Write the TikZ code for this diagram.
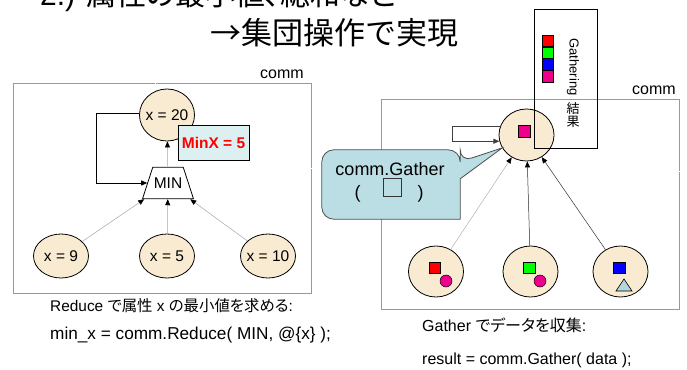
\documentclass[tikz,border=0pt]{standalone}
\usepackage{fontspec}
\setmainfont{Liberation Sans}
\newfontfamily\jp[RawFeature=+palt]{Noto Sans CJK JP}
\newfontfamily\jpt{Noto Sans CJK JP}
\usetikzlibrary{shapes.geometric,arrows.meta,calc}

\definecolor{cream}{RGB}{249,235,210}
\definecolor{notefill}{RGB}{220,240,242}
\definecolor{bubfill}{RGB}{186,222,227}
\definecolor{trifill}{RGB}{178,216,220}

% centred text of zero width, so an ellipse keeps its own size
\newcommand\ctrtext[1]{\makebox[0pt]{#1}}

\begin{document}
\begin{tikzpicture}[x=1pt,y=-1pt,
  txt/.style={inner sep=0pt, font=\fontsize{16}{19}\selectfont},
  val/.style={ellipse, draw, fill=cream, line width=0.8pt, inner sep=0pt,
    minimum width=55pt, font=\fontsize{15.5}{18}\selectfont},
  frame/.style={draw=gray!80, dash pattern=on 0.5pt off 0.5pt, line width=0.6pt},
  feed/.style={line width=0.8pt, -{Triangle[length=6pt,width=5pt]}},
  link/.style={draw=gray!70, line width=0.5pt, -{Triangle[length=6pt,width=5pt,color=black]}},
  chip/.style={draw, line width=0.5pt, minimum size=11.5pt, inner sep=0pt},
  dot/.style={circle, draw, line width=0.5pt, fill=magenta, minimum size=12pt, inner sep=0pt},
]
\clip (0,0) rectangle (687,369);
\fill[white] (0,0) rectangle (687,369);

% headings
\node[anchor=base west, inner sep=0pt, font=\fontsize{30}{36}\selectfont] (h1) at (40,6) {2.) {\jp 属性の最小値、総和など}};
\node[anchor=base west, inner sep=0pt, font=\jpt\fontsize{31}{36}\selectfont] (h2) at (210,45) {→集団操作で実現};

% ---------------- Reduce ----------------
\node[txt] (commL) at (282,74) {comm};
\draw[frame] (13,83) rectangle (311,293);

\node[val, minimum height=52pt] (top) at (167,115) {\ctrtext{x = 20}};
\node[trapezium, trapezium left angle=72, trapezium right angle=72, draw, fill=white,
  line width=0.8pt, inner xsep=1pt, inner ysep=10.5pt,
  font=\fontsize{15.5}{18}\selectfont] (min) at (168,183) {MIN};
\node[val, minimum height=44pt] (a) at (61,256) {\ctrtext{x = 9}};
\node[val, minimum height=44pt] (b) at (167,256) {\ctrtext{x = 5}};
\node[val, minimum height=44pt] (c) at (268,256) {\ctrtext{x = 10}};

\draw[link] (min) -- (top);
\draw[link] (a) -- (min);
\draw[link] (b) -- (min);
\draw[link] (c) -- (min);
\draw[feed] (top.176) -- ++(-43,0) |- (min.west);

\node[draw, fill=notefill, line width=0.6pt, minimum width=71pt, minimum height=35pt,
  inner sep=0pt, text=red, font=\bfseries\fontsize{15.5}{18}\selectfont] (res) at (213.5,142.5) {MinX = 5};

\node[txt, anchor=base west, font=\fontsize{15.4}{18}\selectfont] (capL) at (50,311.5) {Reduce {\jp で属性} x {\jp の最小値を求める}:};
\node[txt, anchor=base west, font=\fontsize{17.2}{20}\selectfont] (codeL) at (50,339) {min\_x = comm.Reduce( MIN, @\{x\} );};

% ---------------- Gather ----------------
\node[txt] (commR) at (654,90) {comm};
\draw[frame] (381,99) rectangle (679,309);

\node[val, minimum height=52pt] (g) at (526.5,135) {};
\node[chip, fill=magenta] (gm) at (524,131) {};

\node[val, minimum height=51pt] (p) at (436,271.5) {};
\node[val, minimum height=51pt] (q) at (530.5,271.5) {};
\node[val, minimum height=51pt] (r) at (620.5,271.5) {};

\node[chip, fill=red] (pr) at (434.5,267.5) {};
\node[dot] (pd) at (446,281) {};
\node[chip, fill=green] (qg) at (529,267.5) {};
\node[dot] (qd) at (540,281) {};
\node[chip, fill=blue] (rb) at (619,267.5) {};
\draw[fill=trifill, line width=0.6pt] (624,279) -- (632,291) -- (616,291) -- cycle;

\draw[link, draw=gray!60] (p) -- (g);
\draw[link, draw=black!85] (q) -- (g);
\draw[link, draw=gray!40!black] (r) -- (g);
\draw[feed, line width=0.7pt, draw=black!75] (g.162) -- ++(-48,0) |- (g.193);

% speech bubble: rounded box with a pointer to the collecting member
\node[minimum width=138pt, minimum height=69pt, inner sep=0pt] (bub) at (391,184.5) {};
\coordinate (tip) at (g.208);
\draw[draw=black!70, fill=bubfill, line width=0.8pt, line join=miter]
  (bub.north) [rounded corners=12pt] -- (bub.north east)
  -- ($(bub.north east)+(0,12)$) [sharp corners] -- (tip)
  -- ($(bub.north east)+(0,29)$) -- (bub.south east) [rounded corners=12pt]
  -- (bub.south west) -- (bub.north west) -- cycle;
\node[anchor=base, inner sep=0pt, font=\fontsize{18}{21}\selectfont] (bt) at (390,175) {comm.Gather};
\node[anchor=base, inner sep=0pt, font=\fontsize{18}{21}\selectfont] (bl) at (357.5,198) {(};
\node[anchor=base, inner sep=0pt, font=\fontsize{18}{21}\selectfont] (br) at (420.5,198) {)};
\node[draw=black!80, line width=0.8pt, minimum size=18pt, inner sep=0pt] (sq) at (392,187.5) {};

% gathered result
\node[draw, line width=0.8pt, minimum width=63pt, minimum height=139pt, inner sep=0pt] (box) at (565.5,78.5) {};
\node[chip, fill=red] (k1) at (547.5,40.9) {};
\node[chip, fill=green] (k2) at (547.5,52.6) {};
\node[chip, fill=blue] (k3) at (547.5,64.4) {};
\node[chip, fill=magenta] (k4) at (547.5,76.1) {};
\node[inner sep=0pt, rotate=-90, font=\fontsize{13}{15}\selectfont] (gt) at (573,67) {Gathering};
\node[inner sep=0pt, font=\jp\fontsize{13}{15}\selectfont] (gk1) at (573,109) {結};
\node[inner sep=0pt, font=\jp\fontsize{13}{15}\selectfont] (gk2) at (573,122) {果};

\node[txt, anchor=base west] (capR) at (422,331.5) {Gather {\jp でデータを収集}:};
\node[txt, anchor=base west] (codeR) at (422,364) {result = comm.Gather( data );};
\end{tikzpicture}
\end{document}
